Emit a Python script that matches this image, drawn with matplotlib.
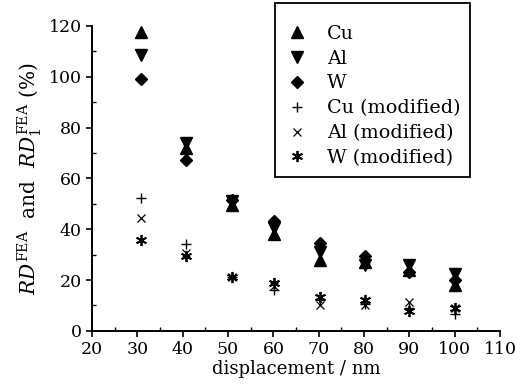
import numpy as np
import matplotlib.pyplot as plt
from matplotlib.ticker import MultipleLocator

plt.rcParams['font.family'] = 'DejaVu Serif'
plt.rcParams['mathtext.fontset'] = 'dejavuserif'

# displacement (nm) and relative deviation values (%)
disp = [30.8, 40.8, 50.8, 60.2, 70.2, 80.1, 90.0, 100.0]
cu = [117.5, 71.9, 49.4, 38.0, 27.9, 27.0, 24.0, 18.1]
al = [108.5, 73.8, 51.2, 40.4, 31.2, 26.0, 26.0, 22.3]
w = [99.0, 67.3, 51.4, 43.2, 34.5, 29.3, 23.3, 20.0]
cu_mod = [52.2, 34.2, 21.0, 16.2, 12.0, 10.5, 9.0, 6.5]
al_mod = [44.3, 30.5, 21.0, 17.5, 10.2, 10.0, 11.5, 9.0]
w_mod = [35.8, 29.5, 21.2, 18.8, 13.5, 12.2, 7.8, 9.0]

fig = plt.figure(figsize=(5.32, 3.92), dpi=100)
ax = fig.add_axes([0.173, 0.156, 0.767, 0.778])

ax.plot(disp, cu, ls='none', marker='^', color='black', ms=8, label='Cu')
ax.plot(disp, al, ls='none', marker='v', color='black', ms=8, label='Al')
ax.plot(disp, w, ls='none', marker='D', color='black', ms=6, label='W')
ax.plot(disp, cu_mod, ls='none', marker='+', color='black', ms=7, mew=1.0, label='Cu (modified)')
ax.plot(disp, al_mod, ls='none', marker='x', color='black', ms=5.5, mew=0.9, label='Al (modified)')
ax.plot(disp, w_mod, ls='none', marker=(6, 2, 0), color='black', ms=8, mew=1.3, label='W (modified)')

ax.set_xlim(20, 110)
ax.set_ylim(0, 120)
ax.xaxis.set_major_locator(MultipleLocator(10))
ax.xaxis.set_minor_locator(MultipleLocator(5))
ax.yaxis.set_major_locator(MultipleLocator(20))
ax.yaxis.set_minor_locator(MultipleLocator(10))
ax.tick_params(which='major', direction='out', length=4, width=1.2, labelsize=12.5)
ax.tick_params(which='minor', direction='in', length=3, width=1.0)
ax.spines['top'].set_visible(False)
ax.spines['right'].set_visible(False)
for s in ('left', 'bottom'):
    ax.spines[s].set_linewidth(1.4)

ax.set_xlabel('displacement / nm', fontsize=13, labelpad=1)
ax.set_ylabel(r'$RD^{\mathrm{FEA}}$  and  $RD_1^{\mathrm{FEA}}$ (%)', fontsize=14.5, labelpad=3)

# empty title only adds the extra space seen above the first entry
leg = fig.legend(loc='upper left', bbox_to_anchor=(0.517, 0.992), fontsize=13.8,
                 frameon=True, fancybox=False, edgecolor='black', framealpha=1,
                 labelspacing=0.36, handletextpad=0.9, borderpad=0.5, handlelength=1.3,
                 borderaxespad=0, title=' ', title_fontsize=4.5)
leg.get_frame().set_linewidth(1.3)

fig.savefig('out.png', dpi=100)
